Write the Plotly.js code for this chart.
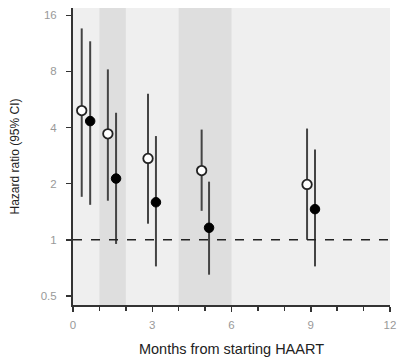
<!DOCTYPE html>
<html><head><meta charset="utf-8">
<script src="https://cdn.plot.ly/plotly-3.0.1.min.js"></script>
<style>html,body{margin:0;padding:0;background:#fff}</style>
</head><body><div id="chart" style="width:397px;height:357px"></div>
<script>
// Open circles series
const openMonths = [0.33, 1.32, 2.84, 4.87, 8.86];
const openHR     = [4.93, 3.70, 2.73, 2.35, 1.98];
const openLower  = [1.70, 1.62, 1.22, 1.43, 1.00];
const openUpper  = [13.6, 8.2, 6.07, 3.9, 3.95];
// Filled circles series
const fillMonths = [0.65, 1.63, 3.14, 5.15, 9.16];
const fillHR     = [4.33, 2.13, 1.59, 1.16, 1.46];
const fillLower  = [1.54, 0.95, 0.72, 0.65, 0.72];
const fillUpper  = [11.6, 4.8, 3.6, 2.05, 3.05];
// Shaded month bands
const bandStarts = [1, 4];
const bandEnds   = [2, 6];
const yTicks = [0.5, 1, 2, 4, 8, 16];
const xTicks = [0, 3, 6, 9, 12];

function errs(hr, lo, up){
  return {type:'data', symmetric:false,
    array: up.map((u,i)=>u-hr[i]), arrayminus: hr.map((h,i)=>h-lo[i]),
    color:'#444', thickness:2, width:0};
}
const traces = [
  {x: openMonths, y: openHR, mode:'markers', type:'scatter',
   marker:{symbol:'circle', size:9.5, color:'#ffffff', line:{color:'#222', width:1.8}},
   error_y: errs(openHR, openLower, openUpper), hoverinfo:'none'},
  {x: fillMonths, y: fillHR, mode:'markers', type:'scatter',
   marker:{symbol:'circle', size:9.5, color:'#000', line:{color:'#000', width:1}},
   error_y: errs(fillHR, fillLower, fillUpper), hoverinfo:'none'}
];
const shapes = bandStarts.map((s,i)=>({type:'rect', xref:'x', yref:'paper', x0:s, x1:bandEnds[i], y0:0, y1:1,
  fillcolor:'#dedede', line:{width:0}, layer:'below'}));
shapes.push({type:'line', xref:'paper', yref:'y', x0:0, x1:1, y0:1, y1:1,
  line:{color:'#222', width:1.6, dash:'dash'}, layer:'above'});
const layout = {
  width:397, height:357, margin:{l:73, r:7, t:8, b:52},
  paper_bgcolor:'#fff', plot_bgcolor:'#efefef', showlegend:false,
  font:{family:'Arial, Liberation Sans, sans-serif', size:11, color:'#999'},
  xaxis:{range:[0,12], tickvals:xTicks, ticktext:xTicks.map(String), ticks:'outside', ticklen:5, tickwidth:1.5,
    tickcolor:'#333', showgrid:false, zeroline:false, showline:true, linecolor:'#333', linewidth:2,
    minor:{dtick:1, ticks:'outside', ticklen:4, tickwidth:1.5, tickcolor:'#333', showgrid:false},
    tickfont:{size:11.5, color:'#999'}, ticklabelstandoff:3,
    title:{text:'Months from starting HAART', font:{size:14.5, color:'#222'}, standoff:14}},
  yaxis:{type:'log', range:[Math.log10(0.447), Math.log10(17.5)], tickvals:yTicks, ticktext:yTicks.map(String),
    ticks:'outside', ticklen:5, tickwidth:1.5, tickcolor:'#333', showgrid:false, zeroline:false,
    showline:true, linecolor:'#333', linewidth:2, tickfont:{size:11.5, color:'#999'}, ticklabelstandoff:7,
    title:{text:'Hazard ratio (95% CI)', font:{size:12, color:'#222'}, standoff:19}},
  shapes: shapes
};
Plotly.newPlot('chart', traces, layout, {displayModeBar:false, staticPlot:true});
</script></body></html>
